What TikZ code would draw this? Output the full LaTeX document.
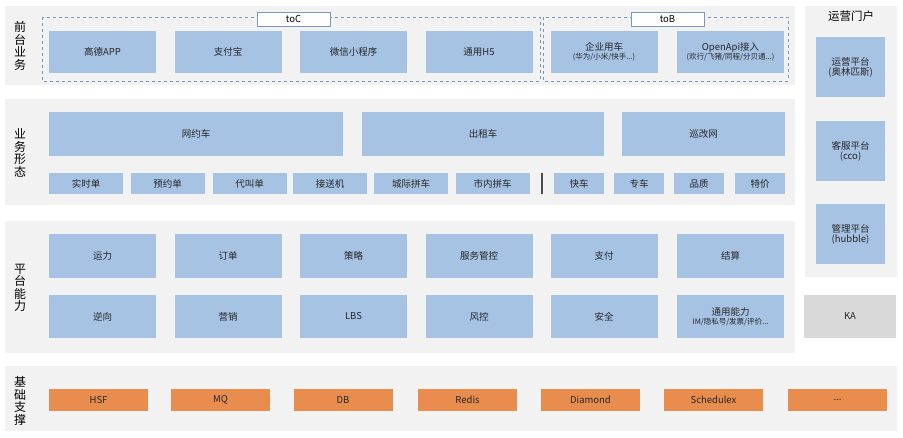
\documentclass[tikz,border=0pt]{standalone}
\usepackage{fontspec}
\setmainfont{Noto Sans CJK SC}
\definecolor{panelgray}{RGB}{242,242,242}
\definecolor{boxblue}{RGB}{166,195,228}
\definecolor{baseorange}{RGB}{232,141,78}
\definecolor{kagray}{RGB}{217,217,217}
\definecolor{dashblue}{RGB}{120,152,194}
\newcommand\subtextfont{\fontsize{7.5}{8.5}\selectfont}
\tikzset{
  panel/.style={fill=panelgray},
  bluebox/.style={fill=boxblue, inner sep=0pt, align=center, text=black!85,
    font=\fontsize{9.5}{11}\selectfont},
  basebox/.style={fill=baseorange, inner sep=0pt, minimum width=99pt, minimum height=22pt,
    text=black!85, font=\fontsize{9.5}{11}\selectfont},
  sidelabel/.style={align=center, font=\fontsize{12}{12.5}\selectfont},
  tagbox/.style={draw=dashblue, fill=white, minimum width=73pt, minimum height=14pt,
    inner sep=0pt, font=\fontsize{9.5}{11}\selectfont}
}
\begin{document}
\begin{tikzpicture}[x=1pt,y=-1pt]
\useasboundingbox (0,0) rectangle (903,437);
% layer panels
\fill[panel] (5,6) rectangle (795,85);
\fill[panel] (5,99) rectangle (795,205);
\fill[panel] (5,221) rectangle (795,353);
\fill[panel] (805,6) rectangle (897,277);
\fill[panel] (5,366) rectangle (897,431);
% side labels
\node[sidelabel] (lfront) at (20,46) {前\\台\\业\\务};
\node[sidelabel] (lbiz) at (20,153) {业\\务\\形\\态};
\node[sidelabel] (lplat) at (20,288) {平\\台\\能\\力};
\node[sidelabel] (lbase) at (20,401) {基\\础\\支\\撑};
\node[font=\fontsize{11.5}{12}\selectfont] (lops) at (851,16) {运营门户};
% front end
\draw[dashblue, dashed] (42,17) rectangle (540,81);
\draw[dashblue, dashed] (543,17) rectangle (788,81);
\node[tagbox] (toc) at (293.5,19) {toC};
\node[tagbox] (tob) at (667.5,19) {toB};
\node[bluebox, minimum width=107pt, minimum height=42pt] (gaode) at (102.5,52) {高德APP};
\node[bluebox, minimum width=107pt, minimum height=42pt] (alipay) at (228,52) {支付宝};
\node[bluebox, minimum width=107pt, minimum height=42pt] (wechat) at (353.5,52) {微信小程序};
\node[bluebox, minimum width=107pt, minimum height=42pt] (hfive) at (479,52) {通用H5};
\node[bluebox, minimum width=107pt, minimum height=42pt] (corp) at (604,52)
  {企业用车\\[-2pt]{\subtextfont(华为/小米/快手...)}};
\node[bluebox, minimum width=107pt, minimum height=42pt] (openapi) at (730.5,52)
  {OpenApi接入\\[-2pt]{\subtextfont(欢行/飞猪/同程/分贝通...)}};
% business forms
\node[bluebox, minimum width=294pt, minimum height=44pt] (wyc) at (196,134) {网约车};
\node[bluebox, minimum width=242pt, minimum height=44pt] (taxi) at (483,134) {出租车};
\node[bluebox, minimum width=163pt, minimum height=44pt] (xgw) at (703.5,134) {巡改网};
\node[bluebox, minimum width=74pt, minimum height=21pt] (shishi) at (86,183.5) {实时单};
\node[bluebox, minimum width=74pt, minimum height=21pt] (yuyue) at (167.5,183.5) {预约单};
\node[bluebox, minimum width=74pt, minimum height=21pt] (daijiao) at (249.5,183.5) {代叫单};
\node[bluebox, minimum width=74pt, minimum height=21pt] (jiesong) at (330,183.5) {接送机};
\node[bluebox, minimum width=74pt, minimum height=21pt] (chengji) at (411,183.5) {城际拼车};
\node[bluebox, minimum width=74pt, minimum height=21pt] (shinei) at (492.5,183.5) {市内拼车};
\draw[black!70, line width=1.8pt] (542,173) -- (542,194);
\node[bluebox, minimum width=50pt, minimum height=21pt] (kuaiche) at (579,183.5) {快车};
\node[bluebox, minimum width=50pt, minimum height=21pt] (zhuanche) at (639,183.5) {专车};
\node[bluebox, minimum width=50pt, minimum height=21pt] (pinzhi) at (699,183.5) {品质};
\node[bluebox, minimum width=50pt, minimum height=21pt] (tejia) at (760,183.5) {特价};
% platform
\node[bluebox, minimum width=107pt, minimum height=44pt] (yunli) at (102.5,256) {运力};
\node[bluebox, minimum width=107pt, minimum height=44pt] (dingdan) at (228,256) {订单};
\node[bluebox, minimum width=107pt, minimum height=44pt] (celue) at (353.5,256) {策略};
\node[bluebox, minimum width=107pt, minimum height=44pt] (fuwu) at (479,256) {服务管控};
\node[bluebox, minimum width=107pt, minimum height=44pt] (zhifu) at (604,256) {支付};
\node[bluebox, minimum width=107pt, minimum height=44pt] (jiesuan) at (730.5,256) {结算};
\node[bluebox, minimum width=107pt, minimum height=43pt] (nixiang) at (102.5,316.5) {逆向};
\node[bluebox, minimum width=107pt, minimum height=43pt] (yingxiao) at (228,316.5) {营销};
\node[bluebox, minimum width=107pt, minimum height=43pt] (lbs) at (353.5,316.5) {LBS};
\node[bluebox, minimum width=107pt, minimum height=43pt] (fengkong) at (479,316.5) {风控};
\node[bluebox, minimum width=107pt, minimum height=43pt] (anquan) at (604,316.5) {安全};
\node[bluebox, minimum width=107pt, minimum height=43pt] (tongyong) at (730.5,316.5)
  {通用能力\\[-2pt]{\subtextfont IM/隐私号/发票/评价...}};
% ops portal
\node[bluebox, minimum width=69pt, minimum height=60pt] (yunying) at (850.5,67)
  {运营平台\\[-1pt](奥林匹斯)};
\node[bluebox, minimum width=69pt, minimum height=60pt] (kefu) at (850.5,151)
  {客服平台\\[-1pt](cco)};
\node[bluebox, minimum width=69pt, minimum height=60pt] (guanli) at (850.5,234)
  {管理平台\\[-1pt](hubble)};
\node[bluebox, fill=kagray, minimum width=92pt, minimum height=43pt] (ka) at (850,316.5) {KA};
% base support
\node[basebox] (hsf) at (98.5,400) {HSF};
\node[basebox] (mq) at (220.5,400) {MQ};
\node[basebox] (db) at (343,400) {DB};
\node[basebox] (redis) at (467.5,400) {Redis};
\node[basebox] (diamond) at (590.5,400) {Diamond};
\node[basebox] (schedulex) at (713.5,400) {Schedulex};
\node[basebox] (more) at (837.5,400) {...};
\end{tikzpicture}
\end{document}
